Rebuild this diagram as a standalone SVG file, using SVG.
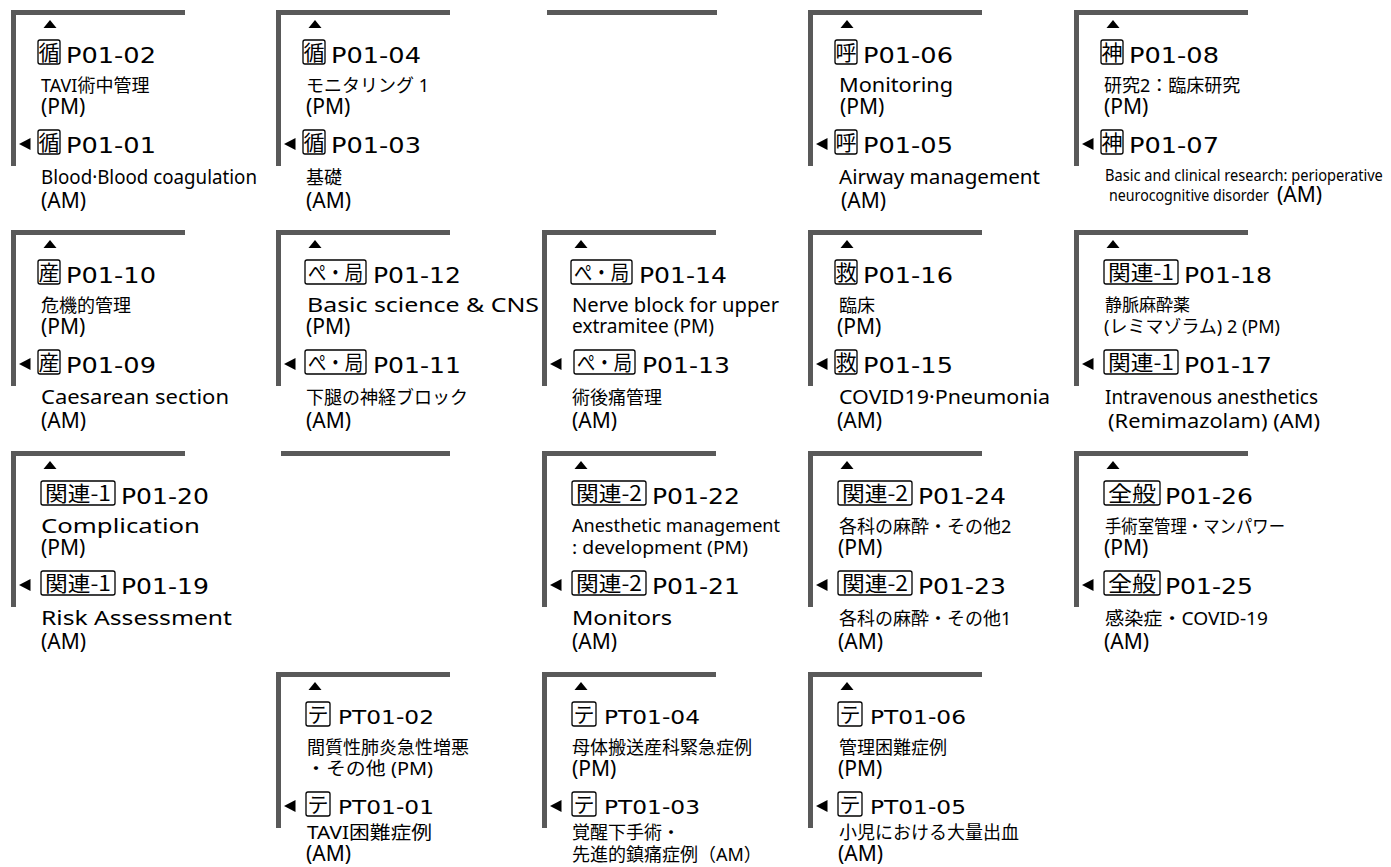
<svg xmlns="http://www.w3.org/2000/svg" xmlns:xlink="http://www.w3.org/1999/xlink" width="1391" height="867" viewBox="0 0 1391 867">
<style>
.br{fill:none;stroke:#595959;stroke-width:5;stroke-linejoin:miter}
.tri{fill:#000}
.bx{fill:none;stroke:#000;stroke-width:1.3}
.bl{font-family:"Noto Sans CJK JP",sans-serif;font-size:21px;text-anchor:middle;fill:#000}
.hd{font-family:"DejaVu Sans","Noto Sans CJK JP",sans-serif;font-size:21.5px;fill:#000}
.hs{font-family:"DejaVu Sans","Noto Sans CJK JP",sans-serif;font-size:20px;fill:#000}
.en{font-family:"Noto Sans","Noto Sans CJK JP",sans-serif;font-size:20px;fill:#000}
.pa{font-family:"Noto Sans","Noto Sans CJK JP",sans-serif;font-size:21px;fill:#000}
.jp{font-family:"Noto Sans","Noto Sans CJK JP",sans-serif;font-size:18px;fill:#000}
.sm{font-family:"Noto Sans","Noto Sans CJK JP",sans-serif;font-size:17px;fill:#000}
</style>
<defs>
<polygon id="up" class="tri" points="32.5,18 45.5,18 39,10"/>
<polygon id="lf" class="tri" points="8,134 19.5,128 19.5,140"/>
<path id="brk" class="br" d="M174,2.5H2.5V156"/>
</defs>

<g id="connectors">
<path class="br" d="M547,12.5H717"/>
<path class="br" d="M281,453.5H450"/>
</g>

<g id="n-P01-02-01" transform="translate(11,10)">
<use href="#brk"/><use href="#up"/><use href="#lf"/>
<rect class="bx" x="27" y="30" width="22" height="24" rx="2"/><text class="bl" x="38" y="49.5">循</text>
<text class="hd" x="55" y="53" textLength="90" lengthAdjust="spacingAndGlyphs">P01-02</text>
<text class="jp" x="30" y="82" font-size="19">TAVI術中管理</text>
<text class="pa" x="30" y="104">(PM)</text>
<rect class="bx" x="27" y="120" width="22" height="24" rx="2"/><text class="bl" x="38" y="139.5">循</text>
<text class="hd" x="55" y="143" textLength="90" lengthAdjust="spacingAndGlyphs">P01-01</text>
<text class="en" x="30" y="174" font-size="19" textLength="216" lengthAdjust="spacingAndGlyphs">Blood·Blood coagulation</text>
<text class="pa" x="30" y="198">(AM)</text>
</g>

<g id="n-P01-04-03" transform="translate(276,10)">
<use href="#brk"/><use href="#up"/><use href="#lf"/>
<rect class="bx" x="27" y="30" width="22" height="24" rx="2"/><text class="bl" x="38" y="49.5">循</text>
<text class="hd" x="55" y="53" textLength="90" lengthAdjust="spacingAndGlyphs">P01-04</text>
<text class="jp" x="30" y="82" font-size="19">モニタリング 1</text>
<text class="pa" x="30" y="104">(PM)</text>
<rect class="bx" x="27" y="120" width="22" height="24" rx="2"/><text class="bl" x="38" y="139.5">循</text>
<text class="hd" x="55" y="143" textLength="90" lengthAdjust="spacingAndGlyphs">P01-03</text>
<text class="jp" x="30" y="174" font-size="19">基礎</text>
<text class="pa" x="30" y="198">(AM)</text>
</g>

<g id="n-P01-06-05" transform="translate(808,10)">
<use href="#brk"/><use href="#up"/><use href="#lf"/>
<rect class="bx" x="27" y="30" width="22" height="24" rx="2"/><text class="bl" x="38" y="49.5">呼</text>
<text class="hd" x="55" y="53" textLength="90" lengthAdjust="spacingAndGlyphs">P01-06</text>
<text class="en" x="31" y="82" font-size="21" textLength="114" lengthAdjust="spacingAndGlyphs">Monitoring</text>
<text class="pa" x="32" y="104">(PM)</text>
<rect class="bx" x="27" y="120" width="22" height="24" rx="2"/><text class="bl" x="38" y="139.5">呼</text>
<text class="hd" x="55" y="143" textLength="90" lengthAdjust="spacingAndGlyphs">P01-05</text>
<text class="en" x="31" y="174" font-size="20.5" textLength="201" lengthAdjust="spacingAndGlyphs">Airway management</text>
<text class="pa" x="33" y="198">(AM)</text>
</g>

<g id="n-P01-08-07" transform="translate(1074,10)">
<use href="#brk"/><use href="#up"/><use href="#lf"/>
<rect class="bx" x="27" y="30" width="22" height="24" rx="2"/><text class="bl" x="38" y="49.5">神</text>
<text class="hd" x="55" y="53" textLength="90" lengthAdjust="spacingAndGlyphs">P01-08</text>
<text class="jp" x="30" y="82" font-size="19">研究2：臨床研究</text>
<text class="pa" x="30" y="104">(PM)</text>
<rect class="bx" x="27" y="120" width="22" height="24" rx="2"/><text class="bl" x="38" y="139.5">神</text>
<text class="hd" x="55" y="143" textLength="90" lengthAdjust="spacingAndGlyphs">P01-07</text>
<text class="sm" transform="translate(31,171) scale(0.842,1)" x="0" y="0" textLength="330" lengthAdjust="spacingAndGlyphs">Basic and clinical research: perioperative</text>
<text class="sm" transform="translate(35,191) scale(0.833,1)" x="0" y="0" textLength="192" lengthAdjust="spacingAndGlyphs">neurocognitive disorder</text>
<text class="pa" x="203" y="192">(AM)</text>
</g>

<g id="n-P01-10-09" transform="translate(11,230)">
<use href="#brk"/><use href="#up"/><use href="#lf"/>
<rect class="bx" x="27" y="30" width="22" height="24" rx="2"/><text class="bl" x="38" y="49.5">産</text>
<text class="hd" x="55" y="53" textLength="90" lengthAdjust="spacingAndGlyphs">P01-10</text>
<text class="jp" x="30" y="82">危機的管理</text>
<text class="pa" x="30" y="104">(PM)</text>
<rect class="bx" x="27" y="120" width="22" height="24" rx="2"/><text class="bl" x="38" y="139.5">産</text>
<text class="hd" x="55" y="143" textLength="90" lengthAdjust="spacingAndGlyphs">P01-09</text>
<text class="en" x="30" y="174" font-size="21.5" textLength="188" lengthAdjust="spacingAndGlyphs">Caesarean section</text>
<text class="pa" x="30" y="198">(AM)</text>
</g>

<g id="n-P01-12-11" transform="translate(276,230)">
<use href="#brk"/><use href="#up"/><use href="#lf"/>
<rect class="bx" x="29" y="30" width="61" height="24" rx="2"/><text class="bl" x="59.5" y="49.5" textLength="55" lengthAdjust="spacingAndGlyphs">ぺ・局</text>
<text class="hd" x="97" y="53" textLength="88" lengthAdjust="spacingAndGlyphs">P01-12</text>
<text class="en" x="31" y="82" font-size="22" textLength="232" lengthAdjust="spacingAndGlyphs">Basic science &amp; CNS</text>
<text class="pa" x="30" y="104">(PM)</text>
<rect class="bx" x="29" y="120" width="61" height="24" rx="2"/><text class="bl" x="59.5" y="139.5" textLength="55" lengthAdjust="spacingAndGlyphs">ぺ・局</text>
<text class="hd" x="97" y="143" textLength="88" lengthAdjust="spacingAndGlyphs">P01-11</text>
<text class="jp" x="30" y="174" font-size="17.5">下腿の神経ブロック</text>
<text class="pa" x="30" y="198">(AM)</text>
</g>

<g id="n-P01-14-13" transform="translate(542,230)">
<use href="#brk"/><use href="#up"/><use href="#lf"/>
<rect class="bx" x="29" y="30" width="61" height="24" rx="2"/><text class="bl" x="59.5" y="49.5" textLength="55" lengthAdjust="spacingAndGlyphs">ぺ・局</text>
<text class="hd" x="97" y="53" textLength="88" lengthAdjust="spacingAndGlyphs">P01-14</text>
<text class="en" x="30" y="82" textLength="207" lengthAdjust="spacingAndGlyphs">Nerve block for upper</text>
<text class="en" x="30" y="103" textLength="142" lengthAdjust="spacingAndGlyphs">extramitee (PM)</text>
<rect class="bx" x="32" y="120" width="61" height="24" rx="2"/><text class="bl" x="62.5" y="139.5" textLength="55" lengthAdjust="spacingAndGlyphs">ぺ・局</text>
<text class="hd" x="100" y="143" textLength="88" lengthAdjust="spacingAndGlyphs">P01-13</text>
<text class="jp" x="30" y="174">術後痛管理</text>
<text class="pa" x="30" y="198">(AM)</text>
</g>

<g id="n-P01-16-15" transform="translate(808,230)">
<use href="#brk"/><use href="#up"/><use href="#lf"/>
<rect class="bx" x="27" y="30" width="22" height="24" rx="2"/><text class="bl" x="38" y="49.5">救</text>
<text class="hd" x="55" y="53" textLength="90" lengthAdjust="spacingAndGlyphs">P01-16</text>
<text class="jp" x="31" y="82" font-size="19">臨床</text>
<text class="pa" x="29" y="104">(PM)</text>
<rect class="bx" x="27" y="120" width="22" height="24" rx="2"/><text class="bl" x="38" y="139.5">救</text>
<text class="hd" x="55" y="143" textLength="90" lengthAdjust="spacingAndGlyphs">P01-15</text>
<text class="en" x="31" y="174" font-size="21" textLength="211" lengthAdjust="spacingAndGlyphs">COVID19·Pneumonia</text>
<text class="pa" x="29" y="198">(AM)</text>
</g>

<g id="n-P01-18-17" transform="translate(1074,230)">
<use href="#brk"/><use href="#up"/><use href="#lf"/>
<rect class="bx" x="30" y="30" width="74" height="24" rx="2"/><text class="bl" x="67" y="49.5" textLength="66" lengthAdjust="spacingAndGlyphs">関連-1</text>
<text class="hd" x="110" y="53" textLength="88" lengthAdjust="spacingAndGlyphs">P01-18</text>
<text class="sm" x="31" y="81">静脈麻酔薬</text>
<text class="jp" x="30" y="103">(レミマゾラム) 2 (PM)</text>
<rect class="bx" x="30" y="120" width="74" height="24" rx="2"/><text class="bl" x="67" y="139.5" textLength="66" lengthAdjust="spacingAndGlyphs">関連-1</text>
<text class="hd" x="110" y="143" textLength="88" lengthAdjust="spacingAndGlyphs">P01-17</text>
<text class="en" x="31" y="174" font-size="19.5" textLength="213" lengthAdjust="spacingAndGlyphs">Intravenous anesthetics</text>
<text class="en" x="34" y="198" font-size="21" textLength="212" lengthAdjust="spacingAndGlyphs">(Remimazolam) (AM)</text>
</g>

<g id="n-P01-20-19" transform="translate(11,451)">
<use href="#brk"/><use href="#up"/><use href="#lf"/>
<rect class="bx" x="30" y="30" width="74" height="24" rx="2"/><text class="bl" x="67" y="49.5" textLength="66" lengthAdjust="spacingAndGlyphs">関連-1</text>
<text class="hd" x="110" y="53" textLength="88" lengthAdjust="spacingAndGlyphs">P01-20</text>
<text class="en" x="30" y="82" font-size="22" textLength="159" lengthAdjust="spacingAndGlyphs">Complication</text>
<text class="pa" x="30" y="104">(PM)</text>
<rect class="bx" x="30" y="120" width="74" height="24" rx="2"/><text class="bl" x="67" y="139.5" textLength="66" lengthAdjust="spacingAndGlyphs">関連-1</text>
<text class="hd" x="110" y="143" textLength="88" lengthAdjust="spacingAndGlyphs">P01-19</text>
<text class="en" x="30" y="174" font-size="22" textLength="191" lengthAdjust="spacingAndGlyphs">Risk Assessment</text>
<text class="pa" x="30" y="198">(AM)</text>
</g>

<g id="n-P01-22-21" transform="translate(542,451)">
<use href="#brk"/><use href="#up"/><use href="#lf"/>
<rect class="bx" x="30" y="30" width="74" height="24" rx="2"/><text class="bl" x="67" y="49.5" textLength="66" lengthAdjust="spacingAndGlyphs">関連-2</text>
<text class="hd" x="110" y="53" textLength="88" lengthAdjust="spacingAndGlyphs">P01-22</text>
<text class="jp" x="30" y="81" textLength="208" lengthAdjust="spacingAndGlyphs">Anesthetic management</text>
<text class="jp" x="30" y="103" font-size="19" textLength="176" lengthAdjust="spacingAndGlyphs">: development (PM)</text>
<rect class="bx" x="30" y="120" width="74" height="24" rx="2"/><text class="bl" x="67" y="139.5" textLength="66" lengthAdjust="spacingAndGlyphs">関連-2</text>
<text class="hd" x="110" y="143" textLength="88" lengthAdjust="spacingAndGlyphs">P01-21</text>
<text class="en" x="30" y="174" font-size="22" textLength="100" lengthAdjust="spacingAndGlyphs">Monitors</text>
<text class="pa" x="30" y="198">(AM)</text>
</g>

<g id="n-P01-24-23" transform="translate(808,451)">
<use href="#brk"/><use href="#up"/><use href="#lf"/>
<rect class="bx" x="30" y="30" width="74" height="24" rx="2"/><text class="bl" x="67" y="49.5" textLength="66" lengthAdjust="spacingAndGlyphs">関連-2</text>
<text class="hd" x="110" y="53" textLength="88" lengthAdjust="spacingAndGlyphs">P01-24</text>
<text class="jp" x="31" y="82">各科の麻酔・その他2</text>
<text class="pa" x="30" y="104">(PM)</text>
<rect class="bx" x="30" y="120" width="74" height="24" rx="2"/><text class="bl" x="67" y="139.5" textLength="66" lengthAdjust="spacingAndGlyphs">関連-2</text>
<text class="hd" x="110" y="143" textLength="88" lengthAdjust="spacingAndGlyphs">P01-23</text>
<text class="jp" x="31" y="174">各科の麻酔・その他1</text>
<text class="pa" x="30" y="198">(AM)</text>
</g>

<g id="n-P01-26-25" transform="translate(1074,451)">
<use href="#brk"/><use href="#up"/><use href="#lf"/>
<rect class="bx" x="30" y="30" width="56" height="24" rx="2"/><text class="bl" x="58" y="49.5" textLength="48" lengthAdjust="spacingAndGlyphs">全般</text>
<text class="hd" x="91" y="53" textLength="88" lengthAdjust="spacingAndGlyphs">P01-26</text>
<text class="jp" x="31" y="82" textLength="180" lengthAdjust="spacingAndGlyphs">手術室管理・マンパワー</text>
<text class="pa" x="30" y="104">(PM)</text>
<rect class="bx" x="30" y="120" width="56" height="24" rx="2"/><text class="bl" x="58" y="139.5" textLength="48" lengthAdjust="spacingAndGlyphs">全般</text>
<text class="hd" x="91" y="143" textLength="88" lengthAdjust="spacingAndGlyphs">P01-25</text>
<text class="jp" x="31" y="174" font-size="19" textLength="163" lengthAdjust="spacingAndGlyphs">感染症・COVID-19</text>
<text class="pa" x="30" y="198">(AM)</text>
</g>

<g id="n-PT01-02-01" transform="translate(276,672)">
<use href="#brk"/><use href="#up"/><use href="#lf"/>
<rect class="bx" x="30" y="30" width="24" height="24" rx="2"/><text class="bl" x="42" y="49.5">テ</text>
<text class="hs" x="62" y="52" textLength="96" lengthAdjust="spacingAndGlyphs">PT01-02</text>
<text class="jp" x="31" y="82">間質性肺炎急性増悪</text>
<text class="jp" x="30" y="103" font-size="19" textLength="127" lengthAdjust="spacingAndGlyphs">・その他 (PM)</text>
<rect class="bx" x="30" y="120" width="24" height="24" rx="2"/><text class="bl" x="42" y="139.5">テ</text>
<text class="hs" x="62" y="142" textLength="96" lengthAdjust="spacingAndGlyphs">PT01-01</text>
<text class="jp" x="31" y="167" font-size="19" textLength="125" lengthAdjust="spacingAndGlyphs">TAVI困難症例</text>
<text class="pa" x="30" y="189">(AM)</text>
</g>

<g id="n-PT01-04-03" transform="translate(542,672)">
<use href="#brk"/><use href="#up"/><use href="#lf"/>
<rect class="bx" x="30" y="30" width="24" height="24" rx="2"/><text class="bl" x="42" y="49.5">テ</text>
<text class="hs" x="62" y="52" textLength="96" lengthAdjust="spacingAndGlyphs">PT01-04</text>
<text class="jp" x="30" y="82">母体搬送産科緊急症例</text>
<text class="pa" x="30" y="104">(PM)</text>
<rect class="bx" x="30" y="120" width="24" height="24" rx="2"/><text class="bl" x="42" y="139.5">テ</text>
<text class="hs" x="62" y="142" textLength="96" lengthAdjust="spacingAndGlyphs">PT01-03</text>
<text class="jp" x="30" y="167">覚醒下手術・</text>
<text class="jp" x="30" y="189">先進的鎮痛症例（AM）</text>
</g>

<g id="n-PT01-06-05" transform="translate(808,672)">
<use href="#brk"/><use href="#up"/><use href="#lf"/>
<rect class="bx" x="30" y="30" width="24" height="24" rx="2"/><text class="bl" x="42" y="49.5">テ</text>
<text class="hs" x="62" y="52" textLength="96" lengthAdjust="spacingAndGlyphs">PT01-06</text>
<text class="jp" x="31" y="82">管理困難症例</text>
<text class="pa" x="30" y="104">(PM)</text>
<rect class="bx" x="30" y="120" width="24" height="24" rx="2"/><text class="bl" x="42" y="139.5">テ</text>
<text class="hs" x="62" y="142" textLength="96" lengthAdjust="spacingAndGlyphs">PT01-05</text>
<text class="jp" x="31" y="167">小児における大量出血</text>
<text class="pa" x="30" y="189">(AM)</text>
</g>
</svg>
